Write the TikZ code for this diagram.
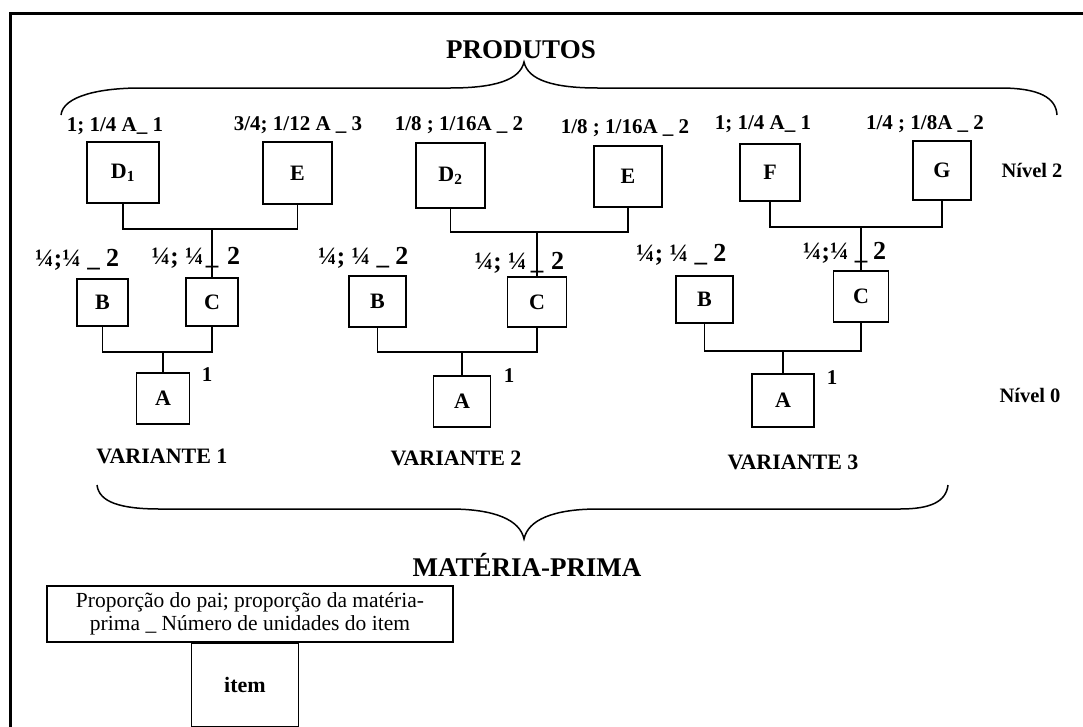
\documentclass[tikz,border=0pt]{standalone}
\usepackage{fontspec}
\setmainfont{Liberation Serif}
\begin{document}
\begin{tikzpicture}[x=1pt,y=-1pt,
  box/.style={draw,line width=1.6pt,inner sep=0pt,font=\fontsize{22}{26}\selectfont\bfseries},
  conn/.style={line width=1.6pt},
  brace/.style={line width=1.5pt},
  lab/.style={font=\fontsize{21}{25}\selectfont\bfseries,inner sep=0pt,anchor=base},
  qlab/.style={font=\fontsize{25}{29}\selectfont\bfseries,inner sep=0pt},
  num/.style={font=\fontsize{26}{30}\selectfont\bfseries,inner sep=0pt,anchor=base west},
  big/.style={font=\fontsize{27}{31}\selectfont\bfseries,inner sep=0pt},
  var/.style={font=\fontsize{22}{26}\selectfont\bfseries,inner sep=0pt},
  niv/.style={font=\fontsize{20.5}{24}\selectfont\bfseries,inner sep=0pt}]
\useasboundingbox (0,0) rectangle (1083,726);
% frame
\draw[line width=3pt] (10,1000) -- (10,13) -- (1100,13);

% titles
\node[big] (prod) at (521,50) {PRODUTOS};
\node[big] (mp) at (527,565) {MATÉRIA-PRIMA};

% top brace
\draw[brace] (61,115) .. controls (63,96) and (100,88) .. (140,88) -- (450,88)
  .. controls (495,88) and (520,80) .. (524,62)
  .. controls (528,80) and (553,88) .. (598,88) -- (1000,88)
  .. controls (1040,88) and (1056,98) .. (1057,115);
% bottom brace
\draw[brace] (97,485) .. controls (99,502) and (120,509) .. (160,509) -- (450,509)
  .. controls (495,509) and (520,520) .. (524,539)
  .. controls (528,520) and (553,509) .. (598,509) -- (900,509)
  .. controls (930,509) and (946,502) .. (948,485);

% level 2 boxes
\node[box,minimum width=72pt,minimum height=61pt] (d1) at (123,172.5) {D\textsubscript{1}};
\node[box,minimum width=69pt,minimum height=62pt] (e1) at (297.5,173) {E};
\node[box,minimum width=69pt,minimum height=65pt] (d2) at (450.5,175.5) {D\textsubscript{2}};
\node[box,minimum width=68pt,minimum height=61pt] (e2) at (628,176.5) {E};
\node[box,minimum width=60pt,minimum height=57pt] (f) at (770,172.5) {F};
\node[box,minimum width=58pt,minimum height=59pt] (g) at (942,170.5) {G};

% level 1 boxes
\node[box,minimum width=51pt,minimum height=47pt] (b1) at (102.5,302.5) {B};
\node[box,minimum width=52pt,minimum height=48pt] (c1) at (212,302) {C};
\node[box,minimum width=57pt,minimum height=51pt] (b2) at (377.5,301.5) {B};
\node[box,minimum width=59pt,minimum height=50pt] (c2) at (537,302) {C};
\node[box,minimum width=57pt,minimum height=47pt] (b3) at (704.5,299.5) {B};
\node[box,minimum width=55pt,minimum height=51pt] (c3) at (861,296.5) {C};

% level 0 boxes
\node[box,minimum width=53pt,minimum height=51pt] (a1) at (163,398.5) {A};
\node[box,minimum width=57pt,minimum height=51pt] (a2) at (462,401.5) {A};
\node[box,minimum width=62pt,minimum height=53pt] (a3) at (783,400.5) {A};

% junction coordinates
\coordinate (h1) at (212,229);
\coordinate (h2) at (537,232);
\coordinate (h3) at (861,227);
\coordinate (l1) at (163,352);
\coordinate (l2) at (462,352);
\coordinate (l3) at (783,351);

% connectors level 2 -> level 1
\draw[conn] (d1.south) |- (h1) -| (e1.south);
\draw[conn] (h1) -- (c1.north);
\draw[conn] (d2.south) |- (h2) -| (e2.south);
\draw[conn] (h2) -- (c2.north);
\draw[conn] (f.south) |- (h3) -| (g.south);
\draw[conn] (h3) -- (c3.north);
% connectors level 1 -> level 0
\draw[conn] (b1.south) |- (l1) -| (c1.south);
\draw[conn] (l1) -- (a1.north);
\draw[conn] (b2.south) |- (l2) -| (c2.south);
\draw[conn] (l2) -- (a2.north);
\draw[conn] (b3.south) |- (l3) -| (c3.south);
\draw[conn] (l3) -- (a3.north);

% level 2 labels
\node[lab] (ld1) at (115,131) {1; 1/4 A\_ 1};
\node[lab] (le1) at (298,130) {3/4; 1/12 A \_ 3};
\node[lab] (ld2) at (459,130) {1/8 ; 1/16A \_ 2};
\node[lab] (le2) at (625,133) {1/8 ; 1/16A \_ 2};
\node[lab] (lf) at (763,129) {1; 1/4 A\_ 1};
\node[lab] (lg) at (925,129) {1/4 ; 1/8A \_ 2};

% level 1 labels (B)
\node[qlab,anchor=base west] (lb1) at (35,266) {¼;¼ \_ {\fontsize{26}{30}\selectfont 2}};
\node[qlab,anchor=base west] (lb2) at (318,264) {¼; ¼ \_ {\fontsize{26}{30}\selectfont 2}};
\node[qlab,anchor=base west] (lb3) at (636,261) {¼; ¼ \_ {\fontsize{26}{30}\selectfont 2}};
% level 1 labels (C): text, underscore crossed by the connector, number
\node[qlab,anchor=base east] (lc1) at (204,264) {¼; ¼};
\node[qlab,anchor=base] (uc1) at (212,264) {\_};
\node[num] (nc1) at (227,264) {2};
\node[qlab,anchor=base east] (lc2) at (527,269) {¼; ¼};
\node[qlab,anchor=base] (uc2) at (537,269) {\_};
\node[num] (nc2) at (551,269) {2};
\node[qlab,anchor=base east] (lc3) at (849,259) {¼;¼};
\node[qlab,anchor=base] (uc3) at (861,259) {\_};
\node[num] (nc3) at (873,259) {2};

% level 0 labels
\node[lab] (n1) at (207,381) {1};
\node[lab] (n2) at (509,382) {1};
\node[lab] (n3) at (832,384) {1};

% variants
\node[var] (v1) at (162,456) {VARIANTE 1};
\node[var] (v2) at (456,458) {VARIANTE 2};
\node[var] (v3) at (793,462) {VARIANTE 3};

% levels
\node[niv] (nv2) at (1032,170) {Nível 2};
\node[niv] (nv0) at (1030,395) {Nível 0};

% legend
\node[draw,line width=1.6pt,minimum width=406pt,minimum height=56pt,inner sep=0pt,align=center,
  font=\fontsize{21.5}{23}\selectfont] (leg) at (250,614)
  {Proporção do pai; proporção da matéria-\\prima \_ Número de unidades do item};
\node[box,minimum width=107pt,minimum height=83pt,anchor=north] (item) at (leg.south -| 245,0) {item};
\end{tikzpicture}
\end{document}
